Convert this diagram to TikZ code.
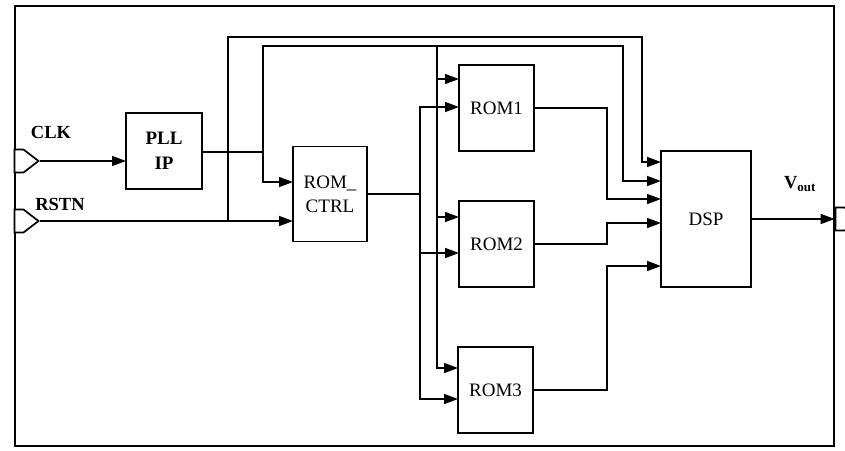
\documentclass[tikz,border=0pt]{standalone}
\usepackage{fontspec}
\setmainfont{Liberation Serif}
\usetikzlibrary{arrows.meta,shapes.symbols}

\begin{document}
\begin{tikzpicture}[x=1pt, y=-1pt,
    blk/.style={draw, line width=1.9pt, inner sep=0pt, align=center,
      font=\fontsize{19}{24}\selectfont},
    port/.style={draw, fill=white, line width=1.7pt, shape=signal, signal to=east,
      signal pointer angle=75, minimum width=24pt, minimum height=23pt, inner sep=0pt},
    lbl/.style={font=\bfseries\fontsize{18.5}{21}\selectfont},
    wire/.style={line width=1.5pt},
    arr/.style={wire, -{Triangle[length=14pt,width=10pt]}}
  ]
    \useasboundingbox (0,0) rectangle (845,450);
    \draw[line width=1.6pt] (15,6) rectangle (834,446);

    % blocks
    \node[blk, minimum width=76pt, minimum height=76pt, font=\bfseries\fontsize{19}{25}\selectfont] (pll) at (164,151) {PLL\\IP};
    \node[blk, minimum width=74pt, minimum height=95pt] (ctrl) at (330,194) {ROM\_\\CTRL};
    \node[blk, minimum width=75pt, minimum height=86pt] (rom1) at (496.5,108) {ROM1};
    \node[blk, minimum width=75pt, minimum height=86pt] (rom2) at (496.5,244) {ROM2};
    \node[blk, minimum width=75pt, minimum height=86pt] (rom3) at (495.5,390) {ROM3};
    \node[blk, minimum width=90pt, minimum height=136pt] (dsp) at (706,219) {DSP};

    % ports
    \node[port] (clk) at (19,161) {};
    \node[port] (rstn) at (19,221) {};
    \node[port] (vout) at (840,219) {};
    \node[lbl] (clklbl) at (51,132) {CLK};
    \node[lbl] (rstnlbl) at (60,204) {RSTN};
    \node[lbl] (voutlbl) at (800,184) {V\textsubscript{out}};

    % pins and junctions
    \coordinate (pllin) at (126,161);
    \coordinate (ctrlclk) at (293,182);
    \coordinate (ctrlrst) at (293,221);
    \coordinate (clkj) at (263,152);
    \coordinate (rstj) at (228,221);
    \coordinate (enbus) at (437,46);
    \coordinate (adbus) at (420,194);
    \coordinate (mrg) at (607,0);
    \coordinate (rom1en) at (459,79);
    \coordinate (rom1ad) at (459,107);
    \coordinate (rom2en) at (459,217);
    \coordinate (rom2ad) at (459,253);
    \coordinate (rom3en) at (458,368);
    \coordinate (rom3ad) at (458,399);
    \coordinate (dspa) at (661,162);
    \coordinate (dspb) at (661,181);
    \coordinate (dspc) at (661,199);
    \coordinate (dspd) at (661,223);
    \coordinate (dspe) at (661,266);

    % clock and reset
    \draw[arr] (clk.east) -- (pllin);
    \draw[wire] (pll.east |- clkj) -- (clkj);
    \draw[arr] (clkj) |- (ctrlclk);
    \draw[arr] (clkj) |- (623,46) |- (dspb);
    \draw[arr] (rstn.east) -- (ctrlrst);
    \draw[arr] (rstj) |- (642,37) |- (dspa);

    % rom buses
    \draw[arr] (enbus) |- (rom3en);
    \draw[arr] (enbus |- rom1en) -- (rom1en);
    \draw[arr] (enbus |- rom2en) -- (rom2en);
    \draw[wire] (ctrl.east) -- (adbus);
    \draw[arr] (adbus) |- (rom1ad);
    \draw[arr] (adbus) |- (rom3ad);
    \draw[arr] (adbus |- rom2ad) -- (rom2ad);

    % rom outputs
    \draw[arr] (rom1.east) -- (rom1.east -| mrg) |- (dspc);
    \draw[arr] (rom2.east) -- (rom2.east -| mrg) |- (dspd);
    \draw[arr] (rom3.east) -- (rom3.east -| mrg) |- (dspe);
    \draw[arr] (dsp.east) -- (vout.west);
  \end{tikzpicture}
\end{document}
